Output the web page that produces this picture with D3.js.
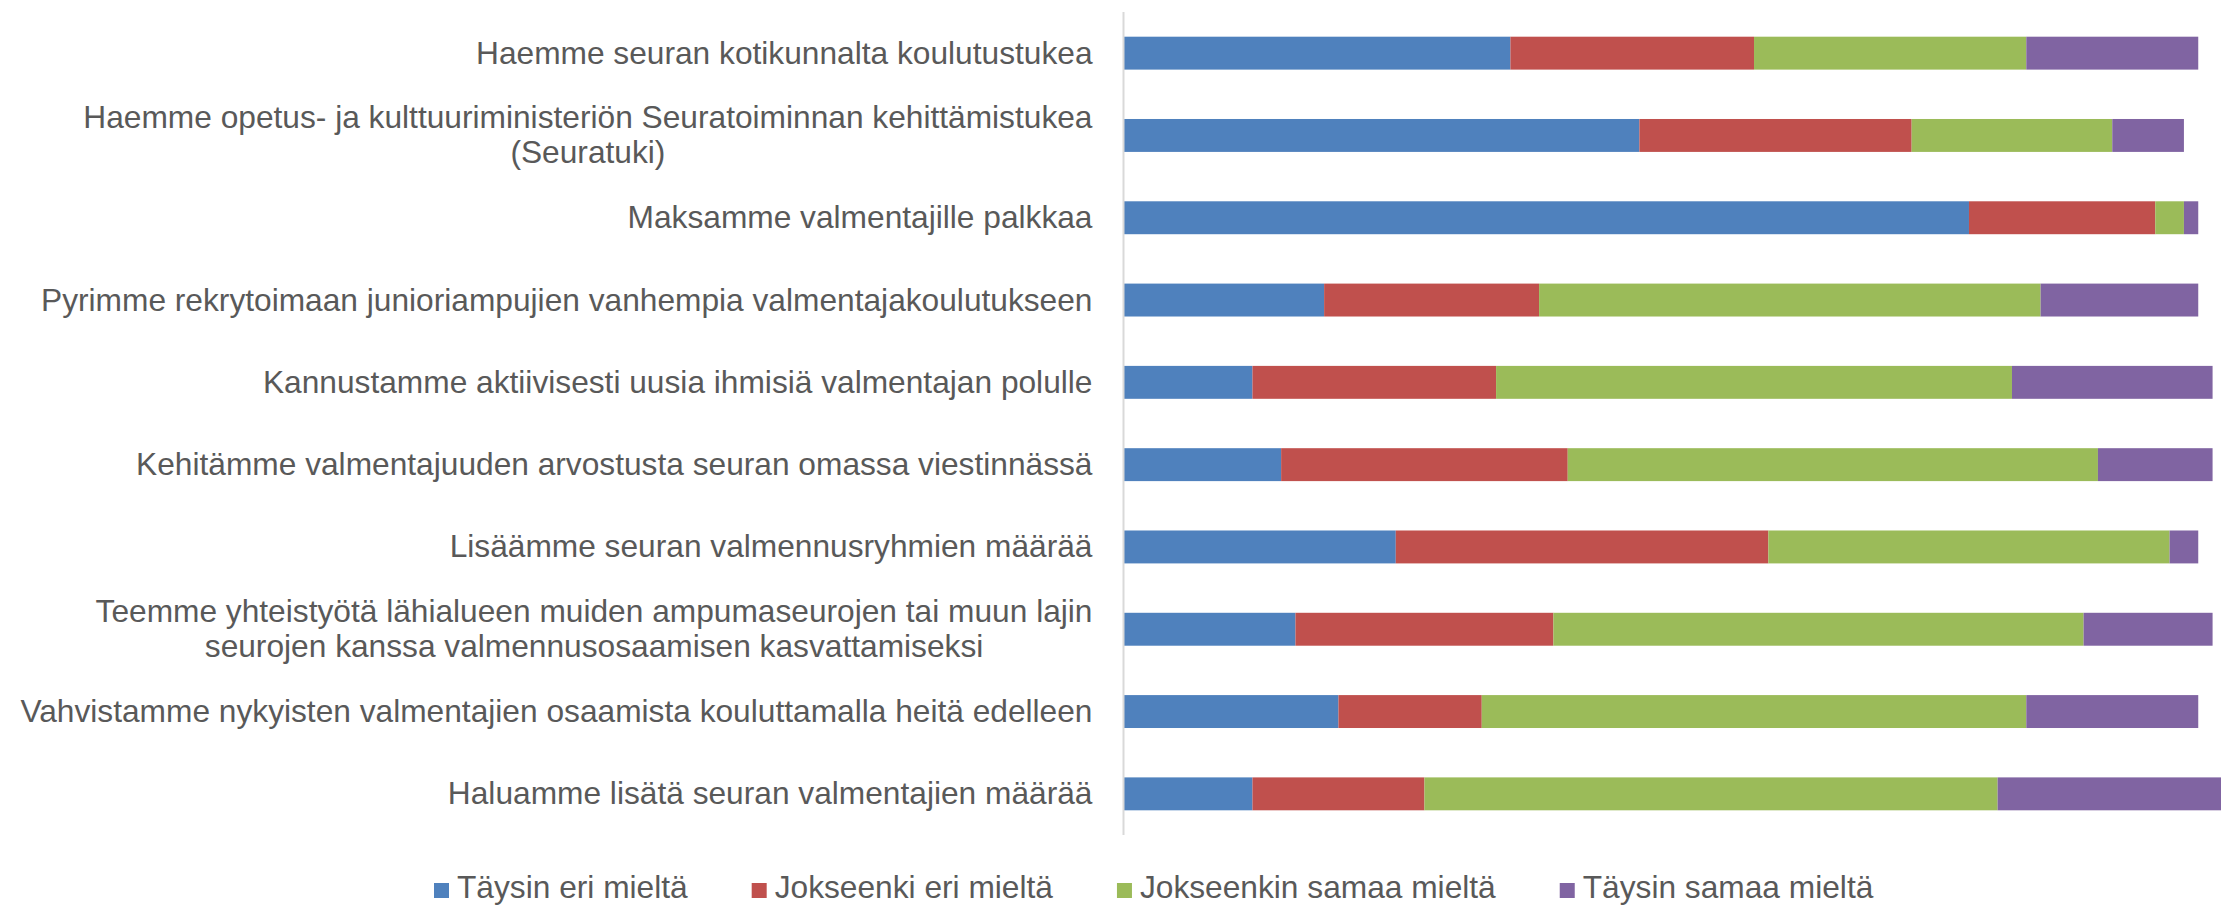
<!doctype html>
<html lang="fi">
	<head>
		<meta charset="utf-8">
		<title>Valmentajat</title>
		<script src="https://d3js.org/d3.v7.min.js"></script>
		<style>
			body { margin: 0; background: #fff; }
			text { font-family: 'Liberation Sans', Arial, sans-serif; fill: #595959; }
		</style>
	</head>
	<body>
		<div id="chart"></div>

		<script>
			// categories top to bottom, '\n' = line break in label
			let categories = [
				'Haemme seuran kotikunnalta koulutustukea',
				'Haemme opetus- ja kulttuuriministeriön Seuratoiminnan kehittämistukea\n(Seuratuki)',
				'Maksamme valmentajille palkkaa',
				'Pyrimme rekrytoimaan junioriampujien vanhempia valmentajakoulutukseen',
				'Kannustamme aktiivisesti uusia ihmisiä valmentajan polulle',
				'Kehitämme valmentajuuden arvostusta seuran omassa viestinnässä',
				'Lisäämme seuran valmennusryhmien määrää',
				'Teemme yhteistyötä lähialueen muiden ampumaseurojen tai muun lajin\nseurojen kanssa valmennusosaamisen kasvattamiseksi',
				'Vahvistamme nykyisten valmentajien osaamista kouluttamalla heitä edelleen',
				'Haluamme lisätä seuran valmentajien määrää',
			]
			let seriesNames = ['Täysin eri mieltä', 'Jokseenki eri mieltä', 'Jokseenkin samaa mieltä', 'Täysin samaa mieltä']
			let taysinEri    = [27, 36, 59, 14,  9, 11, 19, 12, 15,  9]
			let jokseenkiEri = [17, 19, 13, 15, 17, 20, 26, 18, 10, 12]
			let jokseenkinSamaa = [19, 14, 2, 35, 36, 37, 28, 37, 38, 40]
			let taysinSamaa  = [12,  5,  1, 11, 14,  8,  2,  9, 12, 16]
			let colors = ['#4f81bd', '#c0504d', '#9bbb59', '#8064a2']

			let width = 2221
			let height = 906
			let fontSize = 31.7

			let rows = categories.map((c, i) => ({
				label: c,
				values: [taysinEri[i], jokseenkiEri[i], jokseenkinSamaa[i], taysinSamaa[i]]
			}))
			let stacked = d3.stack()
				.keys([0, 1, 2, 3])
				.value((d, k) => d.values[k])(rows)

			let svg = d3.select('#chart')
				.append('svg')
				.attr('width', width)
				.attr('height', height)

			let x = d3.scaleLinear()
				.domain([0, 80])
				.range([1123.5, 1123.5 + 80 * 14.33])

			let y = d3.scaleBand()
				.domain(categories)
				.range([12, 835])
				.paddingInner(0.6)
				.paddingOuter(0.3)

			svg.append('g')
				.selectAll('g')
				.data(stacked)
				.join('g')
					.attr('fill', (d, i) => colors[i])
				.selectAll('rect')
				.data(d => d)
				.join('rect')
					.attr('x', d => x(d[0]))
					.attr('width', d => x(d[1]) - x(d[0]))
					.attr('y', d => y(d.data.label))
					.attr('height', y.bandwidth())

			// vertical axis line
			svg.append('line')
				.attr('x1', x(0)).attr('x2', x(0))
				.attr('y1', 12).attr('y2', 835)
				.attr('stroke', '#d9d9d9')
				.attr('stroke-width', 2)

			// category labels, multi line ones centred on each other
			let labelRight = x(0) - 31
			let lineH = 35
			categories.forEach(c => {
				let lines = c.split('\n')
				let cy = y(c) + y.bandwidth() / 2
				let t = svg.append('text')
					.style('font-size', fontSize + 'px')
				let spans = lines.map((ln, j) => t.append('tspan')
					.attr('y', cy + 10.5 + (j - (lines.length - 1) / 2) * lineH)
					.text(ln))
				let widths = spans.map(s => s.node().getComputedTextLength())
				let maxW = d3.max(widths)
				spans.forEach(s => s.attr('x', labelRight - maxW / 2).attr('text-anchor', 'middle'))
			})

			// legend
			let lx = 434
			let legend = svg.append('g')
			seriesNames.forEach((name, i) => {
				legend.append('rect')
					.attr('x', lx).attr('y', 883)
					.attr('width', 15).attr('height', 15)
					.attr('fill', colors[i])
				let t = legend.append('text')
					.attr('x', lx + 23)
					.attr('y', 898)
					.style('font-size', fontSize + 'px')
					.text(name)
				lx += 23 + t.node().getComputedTextLength() + 64
			})
		</script>
	</body>
</html>
